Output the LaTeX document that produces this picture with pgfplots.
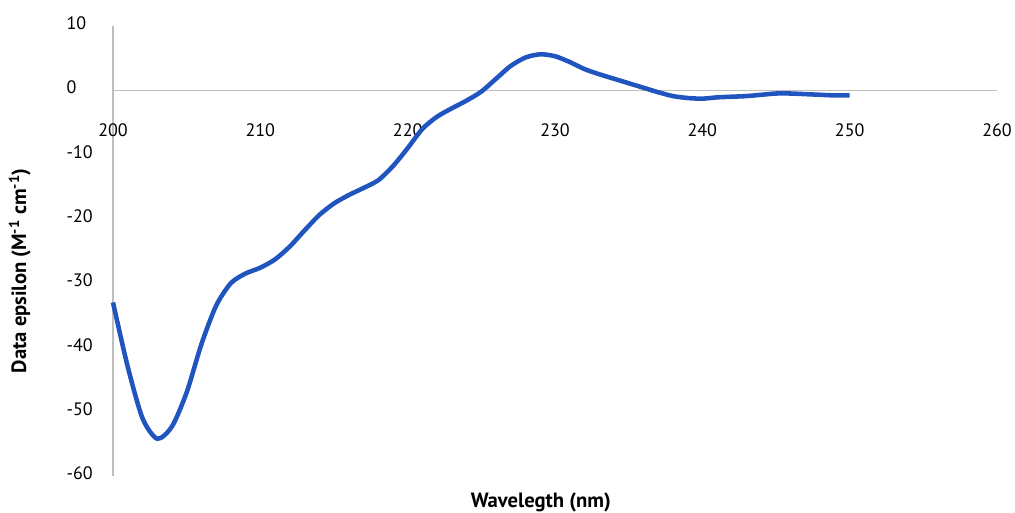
\documentclass[border=0pt]{standalone}
\usepackage{pgfplots}
\pgfplotsset{compat=1.18}
\usepackage{fontspec}
\setmainfont{PT Sans}
\definecolor{lineblue}{RGB}{32,84,190}
\definecolor{axgray}{RGB}{190,190,190}
\begin{document}
\begin{tikzpicture}[x=0.75pt,y=0.75pt]
\useasboundingbox (-113,-36) rectangle (902,476);
\begin{axis}[
  scale only axis,
  width=663pt, height=337.5pt,
  xmin=200, xmax=260, ymin=-60, ymax=10,
  axis x line*=middle, axis y line*=left,
  axis line style={-, draw=axgray, line width=1.1pt},
  hide obscured x ticks=false, hide obscured y ticks=false,
  xtick={200,210,...,260}, ytick={-60,-50,...,10},
  major tick length=0pt,
  tick style={draw=none},
  font=\fontsize{13.5}{16}\selectfont,
  /pgf/number format/assume math mode=true,
  xticklabel style={anchor=center, yshift=-30pt},
  yticklabel style={anchor=west, inner sep=0pt, xshift=-35pt, yshift=2pt},
  xlabel={\textbf{Wavelegth (nm)}},
  ylabel={\textbf{Data epsilon (M\textsuperscript{-1} cm\textsuperscript{-1})}},
  label style={font=\fontsize{15.5}{18}\selectfont},
  xlabel style={at={(axis description cs:0.484,0)}, anchor=center, yshift=-19.5pt},
  ylabel style={at={(axis description cs:0,0.456)}, anchor=center, yshift=70pt},
  clip=false,
]
\addplot[lineblue, line width=3.4pt, smooth, tension=0.45] coordinates {
(200,-33) (201,-43) (202,-51) (203,-54.2) (204,-52.3) (205,-47) (206,-39.5)
(207,-33.5) (208,-30) (209,-28.5) (210,-27.6) (211,-26.3) (212,-24.3)
(213,-21.8) (214,-19.4) (215,-17.6) (216,-16.3) (217,-15.2) (218,-14)
(219,-11.8) (220,-9) (221,-6) (222,-4.1) (223,-2.8) (224,-1.6) (225,-0.2)
(226,1.8) (227,3.8) (228,5.1) (229,5.6) (230,5.3) (231,4.4) (232,3.3)
(233,2.5) (234,1.8) (235,1.1) (236,0.4) (237,-0.3) (238,-0.9) (239,-1.2)
(240,-1.3) (241,-1.1) (242,-1.0) (243,-0.9) (244,-0.7) (245,-0.5)
(246,-0.5) (247,-0.6) (248,-0.7) (249,-0.8) (250,-0.8)
};
\end{axis}
\end{tikzpicture}
\end{document}
